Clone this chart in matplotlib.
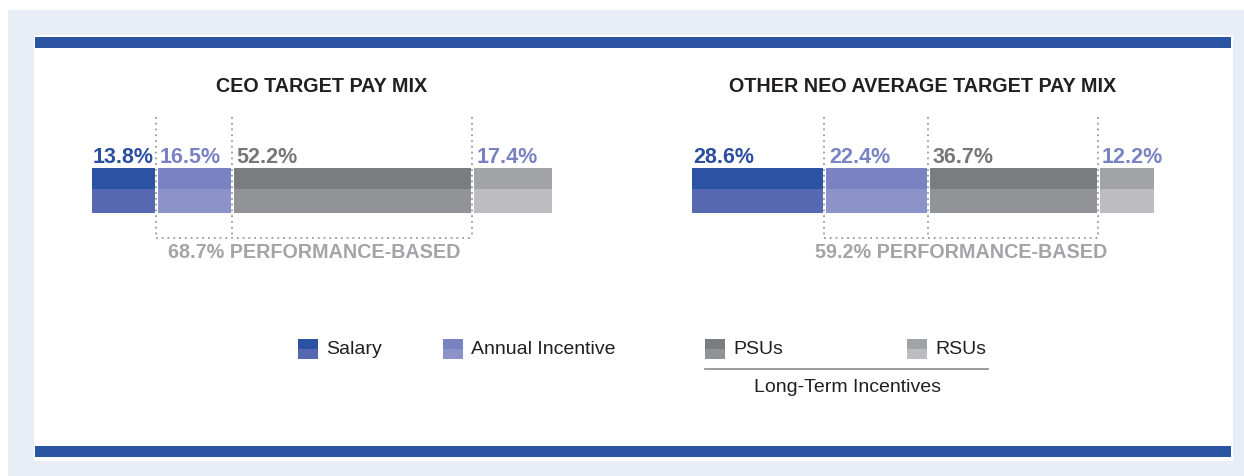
import matplotlib.pyplot as plt
from matplotlib.patches import Rectangle

plt.rcParams['font.family'] = ['Liberation Sans', 'DejaVu Sans']

# pay mix data (percent)
components = ['Salary', 'Annual Incentive', 'PSUs', 'RSUs']
ceo_mix = [13.8, 16.5, 52.2, 17.4]
neo_mix = [28.6, 22.4, 36.7, 12.2]
ceo_perf_label = '68.7% PERFORMANCE-BASED'
neo_perf_label = '59.2% PERFORMANCE-BASED'
titles = ['CEO TARGET PAY MIX', 'OTHER NEO AVERAGE TARGET PAY MIX']

# colours: (top tone, bottom tone)
top_colors = ['#2b52a3', '#7a83c2', '#7b7c80', '#a2a3a7']
bottom_colors = ['#5568b0', '#8b93c9', '#929397', '#bdbdc1']
label_colors = ['#2b4fa0', '#7983c3', '#77777b', '#7983c3']

W, H = 1244, 476
fig = plt.figure(figsize=(W / 100, H / 100), dpi=100)
fig.patch.set_facecolor('white')

# background frame drawn in pixel coordinates
bg = fig.add_axes([0, 0, 1, 1])
bg.set_xlim(0, W)
bg.set_ylim(H, 0)
bg.axis('off')
bg.add_patch(Rectangle((8, 10), W - 8, H - 10, color='#e9edf6', lw=0))
bg.add_patch(Rectangle((34, 35), 1199, 426, color='white', lw=0))
bg.add_patch(Rectangle((35, 37), 1196, 11, color='#2b55a3', lw=0))
bg.add_patch(Rectangle((35, 446), 1196, 11, color='#2b55a3', lw=0))

# legend (manual, two-tone swatches)
legend_x = [298, 443, 705, 907]
for i, name in enumerate(components):
    x0 = legend_x[i]
    bg.add_patch(Rectangle((x0, 339), 20, 10, color=top_colors[i], lw=0))
    bg.add_patch(Rectangle((x0, 349), 20, 10, color=bottom_colors[i], lw=0))
    bg.text(x0 + 28, 349, name, fontsize=14, color='#231f20', va='center', ha='left')
bg.plot([705, 988], [369, 369], color='#8a8a8a', lw=1.2)
bg.text(847, 387, 'Long-Term Incentives', fontsize=14, color='#231f20', va='center', ha='center')


def draw_mix(x_left, x_right, mix, perf_label, title):
    total = sum(mix)
    ax = fig.add_axes([x_left / W, 0, (x_right - x_left) / W, 1])
    ax.set_xlim(0, total)
    ax.set_ylim(H, 0)
    ax.axis('off')
    ax.patch.set_alpha(0)

    lefts = [sum(mix[:i]) for i in range(len(mix))]
    ax.barh(178.5, mix, height=21, left=lefts, color=top_colors, linewidth=0)
    ax.barh(201, mix, height=24, left=lefts, color=bottom_colors, linewidth=0)

    # white gaps between segments
    for b in lefts[1:]:
        ax.plot([b, b], [167, 214], color='white', lw=2.2, zorder=4)

    # percentage labels
    for i, v in enumerate(mix):
        off = 1 if i == 0 else 4.5
        ax.annotate(f'{v:.1f}%', (lefts[i], 163), xytext=(off * 0.72, 0),
                    textcoords='offset points', fontsize=15.5, fontweight='bold',
                    color=label_colors[i], ha='left', va='baseline')

    # dotted bracket around performance-based pay
    dot = dict(color='#9a9a9e', lw=1.3, linestyle=(0, (1, 2.2)), zorder=5)
    for b in lefts[1:]:
        ax.plot([b, b], [117, 238], **dot)
    ax.plot([lefts[1], lefts[3]], [238, 238], **dot)
    ax.text((lefts[1] + lefts[3]) / 2, 253, perf_label, fontsize=14.2,
            fontweight='bold', color='#a4a4a8', ha='center', va='center')

    ax.text(total / 2, 87, title, fontsize=14.2, fontweight='bold',
            color='#231f20', ha='center', va='center')


draw_mix(92, 552, ceo_mix, ceo_perf_label, titles[0])
draw_mix(692, 1154, neo_mix, neo_perf_label, titles[1])

fig.savefig('out.png', dpi=100)
